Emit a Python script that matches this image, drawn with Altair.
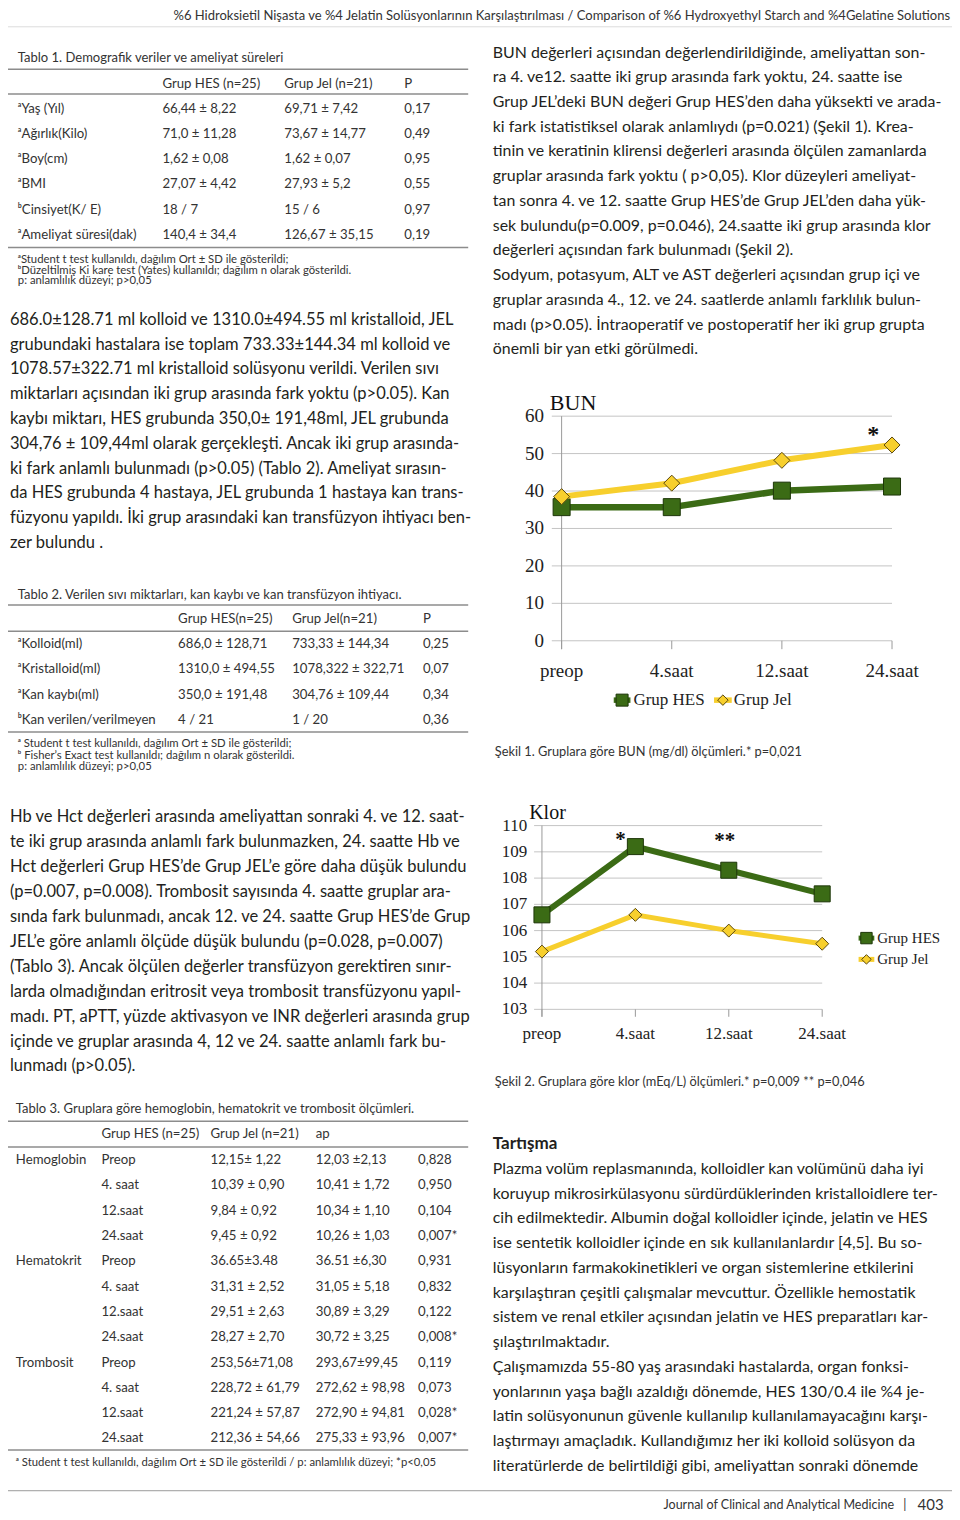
import altair as alt
import pandas as pd

# ---------------- chart data ----------------
categories = ["preop", "4.saat", "12.saat", "24.saat"]
series_names = ["Grup HES", "Grup Jel"]
bun_hes = [35.7, 35.7, 40.1, 41.2]
bun_jel = [38.5, 42.1, 48.2, 52.3]
bun_ticks = [0, 10, 20, 30, 40, 50, 60]
klor_hes = [106.6, 109.2, 108.3, 107.4]
klor_jel = [105.2, 106.6, 106.0, 105.5]
klor_ticks = [103, 104, 105, 106, 107, 108, 109, 110]

# ---------------- page text ----------------
header_text = ("%6 Hidroksietil Nişasta ve %4 Jelatin Solüsyonlarının Karşılaştırılması / "
               "Comparison of %6 Hydroxyethyl Starch and %4Gelatine Solutions")

table1_title = "Tablo 1. Demografik veriler ve ameliyat süreleri"
table1_head = ["Grup HES (n=25)", "Grup Jel (n=21)", "P"]
table1_rows = [
    ["ᵃYaş (Yıl)", "66,44 ± 8,22", "69,71 ± 7,42", "0,17"],
    ["ᵃAğırlık(Kilo)", "71,0 ± 11,28", "73,67 ± 14,77", "0,49"],
    ["ᵃBoy(cm)", "1,62 ± 0,08", "1,62 ± 0,07", "0,95"],
    ["ᵃBMI", "27,07 ± 4,42", "27,93 ± 5,2", "0,55"],
    ["ᵇCinsiyet(K/ E)", "18 / 7", "15 / 6", "0,97"],
    ["ᵃAmeliyat süresi(dak)", "140,4 ± 34,4", "126,67 ± 35,15", "0,19"],
]
table1_notes = [
    "ᵃStudent t test kullanıldı, dağılım Ort ± SD ile gösterildi;",
    "ᵇDüzeltilmiş Ki kare test (Yates) kullanıldı; dağılım n olarak gösterildi.",
    "p: anlamlılık düzeyi; p>0,05",
]

para_left1 = [
    "686.0±128.71 ml kolloid ve 1310.0±494.55 ml kristalloid, JEL",
    "grubundaki hastalara ise toplam 733.33±144.34 ml kolloid ve",
    "1078.57±322.71 ml kristalloid solüsyonu verildi. Verilen sıvı",
    "miktarları açısından iki grup arasında fark yoktu (p>0.05). Kan",
    "kaybı miktarı, HES grubunda 350,0± 191,48ml, JEL grubunda",
    "304,76 ± 109,44ml olarak gerçekleşti. Ancak iki grup arasında-",
    "ki fark anlamlı bulunmadı (p>0.05) (Tablo 2). Ameliyat sırasın-",
    "da HES grubunda 4 hastaya, JEL grubunda 1 hastaya kan trans-",
    "füzyonu yapıldı. İki grup arasındaki kan transfüzyon ihtiyacı ben-",
    "zer bulundu .",
]

table2_title = "Tablo 2. Verilen sıvı miktarları, kan kaybı ve kan transfüzyon ihtiyacı."
table2_head = ["Grup HES(n=25)", "Grup Jel(n=21)", "P"]
table2_rows = [
    ["ᵃKolloid(ml)", "686,0 ± 128,71", "733,33 ± 144,34", "0,25"],
    ["ᵃKristalloid(ml)", "1310,0 ± 494,55", "1078,322 ± 322,71", "0,07"],
    ["ᵃKan kaybı(ml)", "350,0 ± 191,48", "304,76 ± 109,44", "0,34"],
    ["ᵇKan verilen/verilmeyen", "4 / 21", "1 / 20", "0,36"],
]
table2_notes = [
    "ᵃ Student t test kullanıldı, dağılım Ort ± SD ile gösterildi;",
    "ᵇ Fisher’s Exact test kullanıldı; dağılım n olarak gösterildi.",
    "p: anlamlılık düzeyi; p>0,05",
]

para_left2 = [
    "Hb ve Hct değerleri arasında ameliyattan sonraki 4. ve 12. saat-",
    "te iki grup arasında anlamlı fark bulunmazken, 24. saatte Hb ve",
    "Hct değerleri Grup HES’de Grup JEL’e göre daha düşük bulundu",
    "(p=0.007, p=0.008). Trombosit sayısında 4. saatte gruplar ara-",
    "sında fark bulunmadı, ancak 12. ve 24. saatte Grup HES’de Grup",
    "JEL’e göre anlamlı ölçüde düşük bulundu (p=0.028, p=0.007)",
    "(Tablo 3). Ancak ölçülen değerler transfüzyon gerektiren sınır-",
    "larda olmadığından eritrosit veya trombosit transfüzyonu yapıl-",
    "madı. PT, aPTT, yüzde aktivasyon ve INR değerleri arasında grup",
    "içinde ve gruplar arasında 4, 12 ve 24. saatte anlamlı fark bu-",
    "lunmadı (p>0.05).",
]

table3_title = "Tablo 3. Gruplara göre hemoglobin, hematokrit ve trombosit ölçümleri."
table3_head = ["Grup HES (n=25)", "Grup Jel (n=21)", "ap"]
table3_rows = [
    ["Hemoglobin", "Preop", "12,15± 1,22", "12,03 ±2,13", "0,828"],
    ["", "4. saat", "10,39 ± 0,90", "10,41 ± 1,72", "0,950"],
    ["", "12.saat", "9,84 ± 0,92", "10,34 ± 1,10", "0,104"],
    ["", "24.saat", "9,45 ± 0,92", "10,26 ± 1,03", "0,007*"],
    ["Hematokrit", "Preop", "36.65±3.48", "36.51 ±6,30", "0,931"],
    ["", "4. saat", "31,31 ± 2,52", "31,05 ± 5,18", "0,832"],
    ["", "12.saat", "29,51 ± 2,63", "30,89 ± 3,29", "0,122"],
    ["", "24.saat", "28,27 ± 2,70", "30,72 ± 3,25", "0,008*"],
    ["Trombosit", "Preop", "253,56±71,08", "293,67±99,45", "0,119"],
    ["", "4. saat", "228,72 ± 61,79", "272,62 ± 98,98", "0,073"],
    ["", "12.saat", "221,24 ± 57,87", "272,90 ± 94,81", "0,028*"],
    ["", "24.saat", "212,36 ± 54,66", "275,33 ± 93,96", "0,007*"],
]
table3_note = "ᵃ Student t test kullanıldı, dağılım Ort ± SD ile gösterildi / p: anlamlılık düzeyi; *p<0,05"

para_right = [
    "BUN değerleri açısından değerlendirildiğinde, ameliyattan son-",
    "ra 4. ve12. saatte iki grup arasında fark yoktu, 24. saatte ise",
    "Grup JEL’deki BUN değeri Grup HES’den daha yüksekti ve arada-",
    "ki fark istatistiksel olarak anlamlıydı (p=0.021) (Şekil 1). Krea-",
    "tinin ve keratinin klirensi değerleri arasında ölçülen zamanlarda",
    "gruplar arasında fark yoktu ( p>0,05). Klor düzeyleri ameliyat-",
    "tan sonra 4. ve 12. saatte Grup HES’de Grup JEL’den daha yük-",
    "sek bulundu(p=0.009, p=0.046), 24.saatte iki grup arasında klor",
    "değerleri açısından fark bulunmadı (Şekil 2).",
    "Sodyum, potasyum, ALT ve AST değerleri açısından grup içi ve",
    "gruplar arasında 4., 12. ve 24. saatlerde anlamlı farklılık bulun-",
    "madı (p>0.05). İntraoperatif ve postoperatif her iki grup grupta",
    "önemli bir yan etki görülmedi.",
]

bun_title = "BUN"
klor_title = "Klor"
caption1 = "Şekil 1. Gruplara göre BUN (mg/dl) ölçümleri.* p=0,021"
caption2 = "Şekil 2. Gruplara göre klor (mEq/L) ölçümleri.* p=0,009 ** p=0,046"
bun_marks = [["24.saat", 55.0, "*"]]
klor_marks = [["4.saat", 109.45, "*"], ["12.saat", 109.4, "**"]]

discussion_title = "Tartışma"
discussion = [
    "Plazma volüm replasmanında, kolloidler kan volümünü daha iyi",
    "koruyup mikrosirkülasyonu sürdürdüklerinden kristalloidlere ter-",
    "cih edilmektedir. Albumin doğal kolloidler içinde, jelatin ve HES",
    "ise sentetik kolloidler içinde en sık kullanılanlardır [4,5]. Bu so-",
    "lüsyonların farmakokinetikleri ve organ sistemlerine etkilerini",
    "karşılaştıran çeşitli çalışmalar mevcuttur. Özellikle hemostatik",
    "sistem ve renal etkiler açısından jelatin ve HES preparatları kar-",
    "şılaştırılmaktadır.",
    "Çalışmamızda 55-80 yaş arasındaki hastalarda, organ fonksi-",
    "yonlarının yaşa bağlı azaldığı dönemde, HES 130/0.4 ile %4 je-",
    "latin solüsyonunun güvenle kullanılıp kullanılamayacağını karşı-",
    "laştırmayı amaçladık. Kullandığımız her iki kolloid solüsyon da",
    "literatürlerde de belirtildiği gibi, ameliyattan sonraki dönemde",
]
footer_journal = "Journal of Clinical and Analytical Medicine"
footer_sep = "|"
footer_page = "403"

# ---------------- layout ----------------
W, H = 944, 1504


def px(v):
    return v * W / 960.0


def py(v):
    return v * H / 1520.0


XP = alt.Scale(domain=[0, 960], range=[0, W], nice=False, zero=False)
YP = alt.Scale(domain=[0, 1520], range=[0, H], nice=False, zero=False)

SANS = "Lato"
SERIF = "Liberation Serif"
INK = "#231f20"
TBL = "#333333"
GREEN = "#3b6b15"
GREEN_DK = "#1d3609"
YELLOW = "#f7cf2d"
YELLOW_DK = "#5a4810"
GRID = "#c4c4c4"
AXIS = "#9a9a9a"

STYLES = {
    "header": dict(font=SANS, size=13, color="#333333", weight="normal", align="right"),
    "body": dict(font=SANS, size=16.5, color=INK, weight="normal", align="left"),
    "bodyR": dict(font=SANS, size=15.9, color=INK, weight="normal", align="left"),
    "bold": dict(font=SANS, size=17, color=INK, weight="bold", align="left"),
    "title": dict(font=SANS, size=13, color=TBL, weight="normal", align="left"),
    "table": dict(font=SANS, size=13.2, color=TBL, weight="normal", align="left"),
    "note": dict(font=SANS, size=11.3, color=TBL, weight="normal", align="left"),
    "caption": dict(font=SANS, size=12.8, color=TBL, weight="normal", align="left"),
    "footer": dict(font=SANS, size=12.5, color="#333333", weight="normal", align="right"),
    "footsep": dict(font=SANS, size=12.5, color="#333333", weight="normal", align="center"),
    "page": dict(font=SANS, size=15, color="#333333", weight="normal", align="left"),
}
RULES = {
    "table": dict(color="#8c8c8c", width=1.5),
    "header": dict(color="#dcdcdc", width=1),
    "footer": dict(color="#9a9a9a", width=1),
}

texts = []
rules = []


def put(x, y, s, style):
    texts.append(dict(x=x, y=y, text=s, style=style))


def lines_block(lines, x, y0, step, style):
    for i, s in enumerate(lines):
        put(x, y0 + i * step, s, style)


def hline(x1, x2, y, style="table"):
    rules.append(dict(x=x1, x2=x2, y=y, style=style))


def table_block(rows, cols, y0, step, style="table"):
    for i, row in enumerate(rows):
        for cx, cell in zip(cols, row):
            if cell:
                put(cx, y0 + i * step, cell, style)


# header / footer
put(958, 8, header_text, "header")
hline(0, 960, 19, "header")
hline(0, 960, 1498.5, "footer")
put(901, 1512.5, footer_journal, "footer")
put(912, 1512.5, footer_sep, "footsep")
put(925, 1512.5, footer_page, "page")

# table 1
put(10, 50.7, table1_title, "title")
hline(0, 468, 62)
table_block([table1_head], [157, 281, 403], 76.7, 25.5)
hline(0, 468, 87)
table_block(table1_rows, [10, 157, 281, 403], 101.7, 25.5)
hline(0, 468, 242)
lines_block(table1_notes, 10, 255, 10.5, "note")

# left paragraph 1
lines_block(para_left1, 2, 315, 25.08, "body")

# table 2
put(10, 593, table2_title, "title")
hline(0, 468, 603.3)
table_block([table2_head], [173, 289, 422], 617.3, 25.7)
hline(0, 468, 630)
table_block(table2_rows, [10, 173, 289, 422], 642.5, 25.7)
hline(0, 468, 731.7)
lines_block(table2_notes, 10, 744.3, 11.2, "note")

# left paragraph 2
lines_block(para_left2, 2, 817.7, 25.2, "body")

# table 3
put(8, 1113, table3_title, "title")
hline(0, 468, 1125)
table_block([table3_head], [95, 206, 313], 1138, 25.5)
hline(0, 468, 1151)
table_block(table3_rows, [8, 95, 206, 313, 417], 1164.3, 25.58)
hline(0, 468, 1457.3)
put(8, 1470.5, table3_note, "note")

# right column text
lines_block(para_right, 493, 45, 25.0, "bodyR")
put(495, 751.7, caption1, "caption")
put(495, 1085, caption2, "caption")
put(493, 1148.3, discussion_title, "bold")
lines_block(discussion, 493, 1173.3, 25.0, "bodyR")

layers = []

tdf_all = pd.DataFrame(texts)
for st, cfg in STYLES.items():
    d = tdf_all[tdf_all["style"] == st]
    if d.empty:
        continue
    layers.append(
        alt.Chart(d).mark_text(align=cfg["align"], baseline="middle", font=cfg["font"],
                               fontSize=cfg["size"], fontWeight=cfg["weight"], color=cfg["color"])
        .encode(x=alt.X("x:Q", scale=XP, axis=None), y=alt.Y("y:Q", scale=YP, axis=None), text="text:N")
    )

rdf_all = pd.DataFrame(rules)
for st, cfg in RULES.items():
    d = rdf_all[rdf_all["style"] == st]
    if d.empty:
        continue
    layers.append(
        alt.Chart(d).mark_rule(color=cfg["color"], strokeWidth=cfg["width"])
        .encode(x=alt.X("x:Q", scale=XP, axis=None), x2="x2:Q", y=alt.Y("y:Q", scale=YP, axis=None))
    )

SERIES = {
    "Grup HES": dict(color=GREEN, dark=GREEN_DK, shape="square"),
    "Grup Jel": dict(color=YELLOW, dark=YELLOW_DK, shape="diamond"),
}


def panel(hes, jel, ticks, dom, x_left, x_right, y_bottom, y_top, grid_left, tick_len,
          label_right, xlabel_y, fs_y, fs_x, marker_sizes, widths, marks, mark_dx, fs_mark):
    xs = alt.Scale(type="point", domain=categories, range=[px(x_left), px(x_right)], padding=0)
    ys = alt.Scale(domain=dom, range=[py(y_bottom), py(y_top)], nice=False, zero=False)
    X = alt.X("cat:N", scale=xs, axis=None)
    Y = alt.Y("value:Q", scale=ys, axis=None)
    data = pd.DataFrame({
        "cat": categories * 2,
        "idx": list(range(len(categories))) * 2,
        "group": [series_names[0]] * len(categories) + [series_names[1]] * len(categories),
        "value": hes + jel,
    })
    tdf = pd.DataFrame({"value": ticks})
    cdf = pd.DataFrame({"cat": categories})
    out = []
    out.append(alt.Chart(tdf).mark_rule(color=GRID, strokeWidth=1)
               .encode(y=Y, x=alt.value(px(grid_left)), x2=alt.value(px(x_right))))
    out.append(alt.Chart(cdf).mark_rule(color=AXIS, strokeWidth=1)
               .encode(x=X, y=alt.value(py(y_bottom)), y2=alt.value(py(y_bottom + tick_len))))
    out.append(alt.Chart(cdf.head(1)).mark_rule(color=AXIS, strokeWidth=1)
               .encode(x=X, y=alt.value(py(y_top)), y2=alt.value(py(y_bottom + tick_len))))
    out.append(alt.Chart(tdf).mark_text(align="right", baseline="middle", font=SERIF,
                                        fontSize=fs_y, color="#222222")
               .encode(y=Y, x=alt.value(px(label_right)), text="value:Q"))
    out.append(alt.Chart(cdf).mark_text(align="center", baseline="middle", font=SERIF,
                                        fontSize=fs_x, color="#222222")
               .encode(x=X, y=alt.value(py(xlabel_y)), text="cat:N"))
    for k, g in enumerate(series_names):
        s = SERIES[g]
        sub = data[data["group"] == g]
        out.append(alt.Chart(sub).mark_line(color=s["color"], strokeWidth=widths[k])
                   .encode(x=X, y=Y, order="idx:Q"))
        out.append(alt.Chart(sub).mark_point(shape=s["shape"], size=marker_sizes[k], filled=True,
                                             fill=s["color"], stroke=s["dark"], strokeWidth=1, opacity=1)
                   .encode(x=X, y=Y))
    mdf = pd.DataFrame(marks, columns=["cat", "value", "label"])
    for i in range(len(mdf)):
        out.append(alt.Chart(mdf.iloc[[i]]).mark_text(align="center", baseline="middle", font=SERIF,
                                                      fontSize=fs_mark, fontWeight="bold",
                                                      color="#111111", dx=px(mark_dx[i]))
                   .encode(x=X, y=Y, text="label:N"))
    return out


def legend(entries, fs, msizes, lw):
    out = []
    for (g, x1, x2, y, tx), ms in zip(entries, msizes):
        s = SERIES[g]
        d = pd.DataFrame({"x": [x1], "x2": [x2], "xm": [(x1 + x2) / 2], "y": [y], "tx": [tx], "label": [g]})
        YY = alt.Y("y:Q", scale=YP, axis=None)
        out.append(alt.Chart(d).mark_rule(color=s["color"], strokeWidth=lw)
                   .encode(x=alt.X("x:Q", scale=XP, axis=None), x2="x2:Q", y=YY))
        out.append(alt.Chart(d).mark_point(shape=s["shape"], size=ms, filled=True, fill=s["color"],
                                           stroke=s["dark"], strokeWidth=1, opacity=1)
                   .encode(x=alt.X("xm:Q", scale=XP, axis=None), y=YY))
        out.append(alt.Chart(d).mark_text(align="left", baseline="middle", font=SERIF, fontSize=fs,
                                          color="#222222")
                   .encode(x=alt.X("tx:Q", scale=XP, axis=None), y=YY, text="label:N"))
    return out


def title_layer(s, x, y, fs):
    d = pd.DataFrame({"x": [x], "y": [y], "t": [s]})
    return alt.Chart(d).mark_text(align="left", baseline="middle", font=SERIF, fontSize=fs,
                                  color="#111111").encode(
        x=alt.X("x:Q", scale=XP, axis=None), y=alt.Y("y:Q", scale=YP, axis=None), text="t:N")


# BUN chart
layers += panel(bun_hes, bun_jel, bun_ticks, [0, 60], 563, 899, 639.5, 412.5, 553, 8.5,
                545, 670, 19, 19, [289, 256], [6.5, 6], bun_marks, [-19], 24)
layers.append(title_layer(bun_title, 551, 399, 22))
layers += legend([("Grup HES", 616, 633, 699.5, 636), ("Grup Jel", 718, 736, 699.5, 738)],
                 17, [144, 110], 5.5)

# Klor chart
layers += panel(klor_hes, klor_jel, klor_ticks, [103, 110], 543, 828, 1012, 826.3, 535, 7.5,
                528, 1037.3, 17, 17, [256, 169], [6, 5], klor_marks, [-15, -4], 21)
layers.append(title_layer(klor_title, 530, 813.5, 20))
layers += legend([("Grup HES", 865, 881, 940, 884), ("Grup Jel", 865, 881, 961.5, 884)],
                 15, [130, 90], 5)

chart = (
    alt.layer(*layers)
    .resolve_scale(x="independent", y="independent")
    .properties(width=W, height=H, padding=0, autosize=alt.AutoSizeParams(type="none"))
    .configure_view(stroke=None)
)

chart.save("out.html", embed_options={"renderer": "svg", "actions": False})
